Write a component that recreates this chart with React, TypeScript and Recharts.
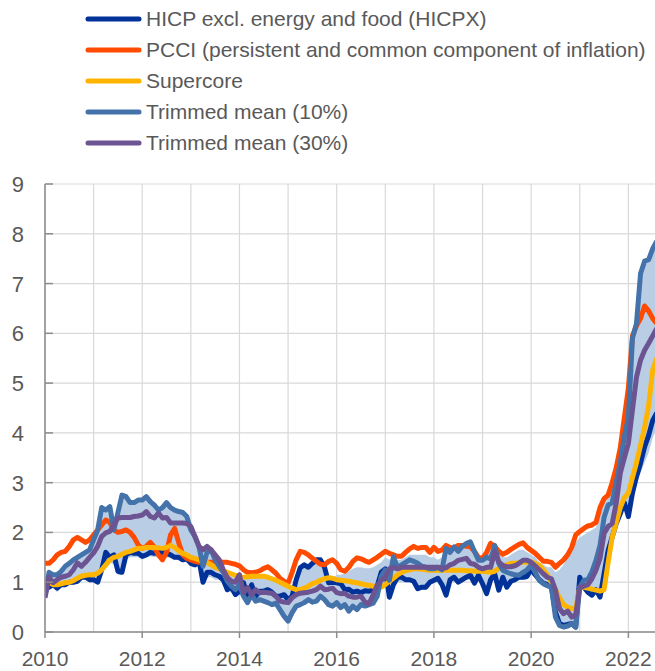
import React from 'react';
import { ComposedChart, Line, Area, XAxis, YAxis, CartesianGrid, Legend } from 'recharts';

// Monthly data, Jan 2010 .. Aug 2022 (annual % changes)
const yearTicks = [2010, 2011, 2012, 2013, 2014, 2015, 2016, 2017, 2018, 2019, 2020, 2021, 2022];
const yTicks = [0, 1, 2, 3, 4, 5, 6, 7, 8, 9];

const hicpx = [
  0.95, 0.9, 0.95, 0.88, 0.95, 0.95, 1.0, 1.0, 1.02, 1.1, 1.1, 1.05,
  1.05, 1.0, 1.25, 1.6, 1.5, 1.55, 1.22, 1.2, 1.55, 1.6, 1.58, 1.58,
  1.52, 1.55, 1.6, 1.58, 1.6, 1.6, 1.58, 1.55, 1.5, 1.5, 1.45, 1.47,
  1.38, 1.35, 1.45, 1.0, 1.2, 1.2, 1.15, 1.12, 1.05, 0.85, 0.9, 0.75,
  0.82, 0.99, 0.72, 0.95, 0.72, 0.82, 0.82, 0.85, 0.8, 0.72, 0.72, 0.75,
  0.65, 0.72, 1.05, 1.29, 1.35, 1.3, 1.38, 1.45, 1.45, 1.3, 0.99, 1.0,
  0.99, 0.97, 0.85, 0.86, 0.8, 0.82, 0.79, 0.83, 0.82, 0.84, 0.92, 1.2,
  1.27, 0.7, 0.95, 1.1, 1.1, 1.05, 1.05, 1.02, 0.87, 0.9, 0.9, 1.0,
  1.04, 1.08, 0.95, 0.74, 1.05, 1.1, 1.0, 1.05, 1.1, 1.14, 0.98, 1.14,
  0.97, 0.77, 1.05, 1.17, 0.84, 1.1, 0.9, 1.02, 1.05, 1.1, 1.1, 1.12,
  1.27, 1.15, 1.05, 0.98, 0.95, 0.9, 0.4, 0.17, 0.13, 0.15, 0.17, 0.1,
  1.1, 0.9, 0.8, 0.74, 0.85, 0.7, 1.17, 1.64, 1.91, 2.18, 2.38, 2.6,
  2.32, 2.79, 3.12, 3.39, 3.72, 3.95, 4.25, 4.4,
];

const pcci = [
  1.38, 1.38, 1.45, 1.55, 1.6, 1.62, 1.72, 1.85, 1.9, 1.85, 1.8, 1.85,
  1.95, 2.05, 2.15, 2.25, 2.2, 2.05, 2.0, 2.02, 2.05, 2.0, 1.9, 1.75,
  1.68, 1.72, 1.8, 1.7, 1.55, 1.45, 1.6, 1.95, 2.08, 1.8, 1.55, 1.48,
  1.45, 1.42, 1.4, 1.4, 1.4, 1.4, 1.42, 1.42, 1.4, 1.4, 1.38, 1.36,
  1.33, 1.25, 1.2, 1.19, 1.2, 1.23, 1.28, 1.31, 1.25, 1.18, 1.08, 1.02,
  0.98, 1.2, 1.45, 1.62, 1.6, 1.55, 1.48, 1.42, 1.36, 1.35, 1.42, 1.45,
  1.38, 1.25, 1.22, 1.3, 1.42, 1.49, 1.47, 1.43, 1.4, 1.45, 1.5, 1.56,
  1.62, 1.58, 1.55, 1.52, 1.52, 1.6, 1.67, 1.72, 1.68, 1.7, 1.7, 1.6,
  1.7, 1.62, 1.65, 1.74, 1.7, 1.68, 1.74, 1.74, 1.72, 1.71, 1.62, 1.5,
  1.48, 1.6, 1.78, 1.72, 1.62, 1.56, 1.6, 1.66, 1.71, 1.76, 1.79, 1.7,
  1.64, 1.58, 1.5, 1.42, 1.42, 1.4, 1.3, 1.38, 1.45, 1.55, 1.7, 1.95,
  2.02, 2.08, 2.13, 2.15, 2.2, 2.5, 2.68, 2.75, 3.0, 3.3, 3.7, 4.3,
  4.9, 5.95, 6.15, 6.3, 6.55, 6.45, 6.3, 6.2,
];

const supercore = [
  1.1, 1.0, 0.95, 0.95, 0.97, 0.99, 1.0, 1.03, 1.08, 1.12, 1.14, 1.15,
  1.15, 1.18, 1.25, 1.35, 1.45, 1.5, 1.52, 1.56, 1.6, 1.62, 1.65, 1.68,
  1.68, 1.7, 1.7, 1.7, 1.69, 1.68, 1.7, 1.74, 1.7, 1.63, 1.58, 1.55,
  1.5, 1.48, 1.45, 1.42, 1.4, 1.35, 1.3, 1.27, 1.23, 1.2, 1.17, 1.14,
  1.1, 1.1, 1.11, 1.12, 1.12, 1.12, 1.12, 1.1, 1.07, 1.04, 1.0, 0.96,
  0.92, 0.88, 0.85, 0.85, 0.88, 0.92, 0.97, 1.0, 1.04, 1.07, 1.09, 1.08,
  1.05, 1.04, 1.03, 1.02, 1.0, 0.99, 0.97, 0.95, 0.94, 0.92, 0.9, 0.9,
  0.95, 1.02, 1.08, 1.15, 1.2, 1.23, 1.25, 1.27, 1.27, 1.26, 1.25, 1.24,
  1.24, 1.24, 1.24, 1.24, 1.24, 1.24, 1.24, 1.24, 1.23, 1.23, 1.22, 1.22,
  1.22, 1.21, 1.2, 1.22, 1.28, 1.32, 1.35, 1.38, 1.38, 1.39, 1.4, 1.4,
  1.41, 1.38, 1.34, 1.25, 1.15, 1.0, 0.85, 0.68, 0.55, 0.5, 0.47, 0.46,
  0.9, 0.9, 0.88, 0.86, 0.84, 0.82, 0.85, 1.4, 1.9, 2.2, 2.5, 2.7,
  2.79, 3.1, 3.4, 3.75, 4.1, 4.55, 5.26, 5.5,
];

const trim10 = [
  0.72, 1.2, 1.15, 1.15, 1.22, 1.32, 1.38, 1.45, 1.5, 1.55, 1.6, 1.65,
  1.85, 2.05, 2.5, 2.45, 2.52, 2.05, 2.4, 2.75, 2.72, 2.6, 2.6, 2.65,
  2.65, 2.72, 2.62, 2.55, 2.45, 2.5, 2.6, 2.5, 2.45, 2.42, 2.4, 2.32,
  2.05, 1.92, 1.72, 1.32, 1.6, 1.65, 1.45, 1.32, 1.2, 1.02, 0.92, 0.85,
  0.95, 0.72, 0.59, 0.75, 0.62, 0.65, 0.62, 0.59, 0.55, 0.58, 0.45, 0.32,
  0.22, 0.39, 0.52, 0.55, 0.59, 0.65, 0.6, 0.62, 0.72, 0.65, 0.55, 0.52,
  0.59, 0.49, 0.55, 0.42, 0.52, 0.45, 0.55, 0.52, 0.55, 0.58, 0.72, 1.12,
  1.25, 1.04, 1.51, 1.3, 1.35, 1.4, 1.45, 1.42, 1.38, 1.32, 1.3, 1.27,
  1.27, 1.3, 1.25, 1.68, 1.6, 1.71, 1.62, 1.72, 1.78, 1.81, 1.62, 1.44,
  1.44, 1.5, 1.47, 1.74, 1.38, 1.24, 1.2, 1.17, 1.15, 1.14, 1.2, 1.25,
  1.34, 1.2, 1.04, 0.97, 0.93, 0.9, 0.3, 0.13, 0.1, 0.12, 0.17, 0.1,
  0.9, 1.04, 1.05, 1.21, 1.44, 1.74, 2.3, 2.55, 2.6, 3.0, 3.4, 3.92,
  4.3, 5.9, 6.2, 7.2, 7.45, 7.48, 7.7, 7.85,
];

const trim30 = [
  0.69, 1.1, 0.99, 1.05, 1.1, 1.12, 1.15, 1.25, 1.39, 1.32, 1.4, 1.5,
  1.59, 1.72, 1.92, 1.99, 2.02, 2.15, 2.29, 2.3, 2.3, 2.3, 2.32, 2.33,
  2.35, 2.42, 2.32, 2.29, 2.39, 2.29, 2.3, 2.19, 2.19, 2.19, 2.19, 2.18,
  2.12, 1.92, 1.72, 1.65, 1.72, 1.65, 1.55, 1.45, 1.25, 1.09, 1.02, 1.0,
  1.15, 0.79, 0.89, 0.75, 0.85, 0.79, 0.8, 0.79, 0.78, 0.72, 0.62, 0.6,
  0.59, 0.69, 0.75, 0.78, 0.79, 0.8, 0.82, 0.85, 0.92, 0.85, 0.86, 0.88,
  0.79, 0.77, 0.78, 0.72, 0.7, 0.7, 0.72, 0.6, 0.57, 0.75, 0.94, 1.04,
  1.1, 1.27, 1.3, 1.27, 1.3, 1.3, 1.3, 1.3, 1.3, 1.3, 1.3, 1.3,
  1.3, 1.3, 1.28, 1.29, 1.35, 1.38, 1.44, 1.46, 1.48, 1.38, 1.36, 1.3,
  1.27, 1.3, 1.3, 1.61, 1.41, 1.34, 1.31, 1.31, 1.33, 1.38, 1.44, 1.44,
  1.4, 1.33, 1.25, 1.17, 1.1, 1.07, 0.84, 0.47, 0.37, 0.42, 0.3, 0.35,
  0.9, 0.92, 0.95, 1.07, 1.24, 1.48, 1.98, 2.12, 2.18, 2.59, 3.19, 3.5,
  3.79, 4.46, 5.12, 5.46, 5.66, 5.8, 5.95, 6.1,
];

// Range of underlying inflation measures (shaded band)
const bandLow = [
  0.65, 0.85, 0.9, 0.8, 0.9, 0.9, 0.95, 0.95, 0.98, 1.05, 1.05, 1.0,
  1.0, 0.95, 1.15, 1.3, 1.4, 1.35, 1.15, 1.15, 1.45, 1.5, 1.5, 1.5,
  1.45, 1.5, 1.52, 1.5, 1.5, 1.5, 1.5, 1.48, 1.45, 1.45, 1.4, 1.4,
  1.32, 1.3, 1.3, 0.95, 1.1, 1.1, 1.05, 1.05, 0.95, 0.8, 0.8, 0.7,
  0.75, 0.65, 0.55, 0.7, 0.58, 0.6, 0.58, 0.55, 0.5, 0.5, 0.4, 0.28,
  0.18, 0.35, 0.48, 0.5, 0.55, 0.6, 0.55, 0.58, 0.68, 0.6, 0.5, 0.48,
  0.55, 0.45, 0.5, 0.38, 0.48, 0.42, 0.5, 0.48, 0.5, 0.55, 0.68, 0.9,
  0.95, 0.65, 0.9, 1.0, 1.0, 1.0, 1.0, 0.98, 0.82, 0.85, 0.85, 0.95,
  0.98, 1.0, 0.9, 0.7, 1.0, 1.0, 0.95, 1.0, 1.05, 1.05, 0.93, 1.05,
  0.92, 0.72, 1.0, 1.1, 0.8, 1.05, 0.85, 0.98, 1.0, 1.05, 1.05, 1.05,
  1.15, 1.1, 1.0, 0.92, 0.88, 0.85, 0.25, 0.08, 0.05, 0.07, 0.1, 0.05,
  0.85, 0.85, 0.75, 0.7, 0.8, 0.65, 0.8, 1.3, 1.85, 2.1, 2.3, 2.5,
  2.25, 2.7, 3.0, 3.2, 3.4, 3.6, 3.9, 4.1,
];

const bandHigh = [
  1.1, 1.2, 1.15, 1.15, 1.22, 1.32, 1.38, 1.45, 1.5, 1.55, 1.6, 1.65,
  1.85, 2.05, 2.5, 2.45, 2.52, 2.1, 2.4, 2.75, 2.72, 2.6, 2.6, 2.65,
  2.65, 2.72, 2.62, 2.55, 2.45, 2.5, 2.6, 2.5, 2.45, 2.42, 2.4, 2.32,
  2.12, 1.95, 1.75, 1.65, 1.72, 1.65, 1.55, 1.45, 1.28, 1.2, 1.17, 1.14,
  1.15, 1.12, 1.11, 1.12, 1.12, 1.12, 1.12, 1.1, 1.07, 1.04, 1.0, 0.96,
  0.92, 0.9, 1.05, 1.29, 1.35, 1.3, 1.38, 1.45, 1.45, 1.3, 1.09, 1.08,
  1.15, 1.15, 1.18, 1.22, 1.27, 1.3, 1.3, 1.28, 1.28, 1.3, 1.35, 1.4,
  1.5, 1.45, 1.51, 1.45, 1.45, 1.5, 1.55, 1.55, 1.55, 1.55, 1.55, 1.5,
  1.5, 1.45, 1.5, 1.68, 1.65, 1.71, 1.7, 1.72, 1.78, 1.81, 1.62, 1.5,
  1.48, 1.55, 1.6, 1.74, 1.55, 1.5, 1.5, 1.55, 1.6, 1.65, 1.65, 1.6,
  1.55, 1.5, 1.4, 1.35, 1.3, 1.3, 1.2, 1.25, 1.35, 1.5, 1.6, 1.8,
  1.9, 1.95, 2.0, 2.05, 2.1, 2.4, 2.6, 2.7, 2.95, 3.2, 3.6, 4.1,
  4.5, 5.9, 6.15, 7.2, 7.45, 7.48, 7.7, 7.85,
];

const series = [
  { key: 'hicpx', name: 'HICP excl. energy and food (HICPX)', color: '#003299' },
  { key: 'pcci', name: 'PCCI (persistent and common component of inflation)', color: '#FF4B00' },
  { key: 'supercore', name: 'Supercore', color: '#FFB400' },
  { key: 'trim10', name: 'Trimmed mean (10%)', color: '#4472AA' },
  { key: 'trim30', name: 'Trimmed mean (30%)', color: '#6C5391' },
];

const data = hicpx.map((v, i) => ({
  t: 2010 + i / 12,
  hicpx: v,
  pcci: pcci[i],
  supercore: supercore[i],
  trim10: trim10[i],
  trim30: trim30[i],
  band: [bandLow[i], bandHigh[i]],
}));

const FONT = '"Liberation Sans", Arial, sans-serif';
const TEXT = '#595959';
const AXIS = '#8c8c8c';

const XTick = (props: any) => {
  const { x, y, payload } = props;
  const v = payload.value;
  if (v % 2 !== 0) return <g />;
  return (
    <g>
      <line x1={x} x2={x} y1={y} y2={y + 6} stroke={AXIS} strokeWidth={1.5} />
      <text x={x} y={y + 34} textAnchor="middle" fontSize={21} fill={TEXT} fontFamily={FONT}>
        {v}
      </text>
    </g>
  );
};

const YTick = (props: any) => {
  const { x, y, payload } = props;
  return (
    <g>
      <line x1={x} x2={x + 8} y1={y} y2={y} stroke={AXIS} strokeWidth={1.5} />
      <text x={x - 21} y={y} dy={8} textAnchor="end" fontSize={22} fill={TEXT} fontFamily={FONT}>
        {payload.value}
      </text>
    </g>
  );
};

const LegendContent = () => (
  <div style={{ fontFamily: FONT, fontSize: 21, color: TEXT, paddingTop: 3 }}>
    {series.map((s) => (
      <div key={s.key} style={{ display: 'flex', alignItems: 'center', height: 31, whiteSpace: 'nowrap' }}>
        <svg width={57} height={10} style={{ marginLeft: 85, marginRight: 4, flexShrink: 0 }}>
          <line x1={3} x2={54} y1={5} y2={5} stroke={s.color} strokeWidth={5} strokeLinecap="round" />
        </svg>
        <span>{s.name}</span>
      </div>
    ))}
  </div>
);

export default function App() {
  return (
    <div style={{ position: 'absolute', left: 0, top: 0, width: 655, height: 671, overflow: 'hidden', background: '#fff' }}>
      <ComposedChart width={677} height={671} data={data} margin={{ top: 184, right: 0, bottom: 0, left: 0 }}>
        <CartesianGrid stroke="#d9d9d9" strokeWidth={1.2} />
        <XAxis
          dataKey="t"
          type="number"
          domain={[2010, 2023]}
          ticks={yearTicks}
          interval={0}
          height={39}
          tickSize={0}
          tickMargin={0}
          tickLine={false}
          axisLine={{ stroke: AXIS, strokeWidth: 1.5 }}
          tick={<XTick />}
          allowDataOverflow
        />
        <YAxis
          domain={[0, 9]}
          ticks={yTicks}
          interval={0}
          width={45}
          tickSize={0}
          tickMargin={0}
          tickLine={false}
          axisLine={{ stroke: AXIS, strokeWidth: 1.5 }}
          tick={<YTick />}
          allowDataOverflow
        />
        <Legend
          layout="vertical"
          align="center"
          verticalAlign="middle"
          wrapperStyle={{ position: 'absolute', top: 0, left: 0, width: 655 }}
          content={<LegendContent />}
        />
        <Area
          dataKey="band"
          type="linear"
          stroke="none"
          fill="#B9CDE5"
          fillOpacity={1}
          isAnimationActive={false}
          legendType="none"
          activeDot={false}
        />
        {series.map((s) => (
          <Line
            key={s.key}
            dataKey={s.key}
            name={s.name}
            type="linear"
            stroke={s.color}
            strokeWidth={5}
            strokeLinejoin="round"
            dot={false}
            activeDot={false}
            isAnimationActive={false}
          />
        ))}
      </ComposedChart>
    </div>
  );
}
